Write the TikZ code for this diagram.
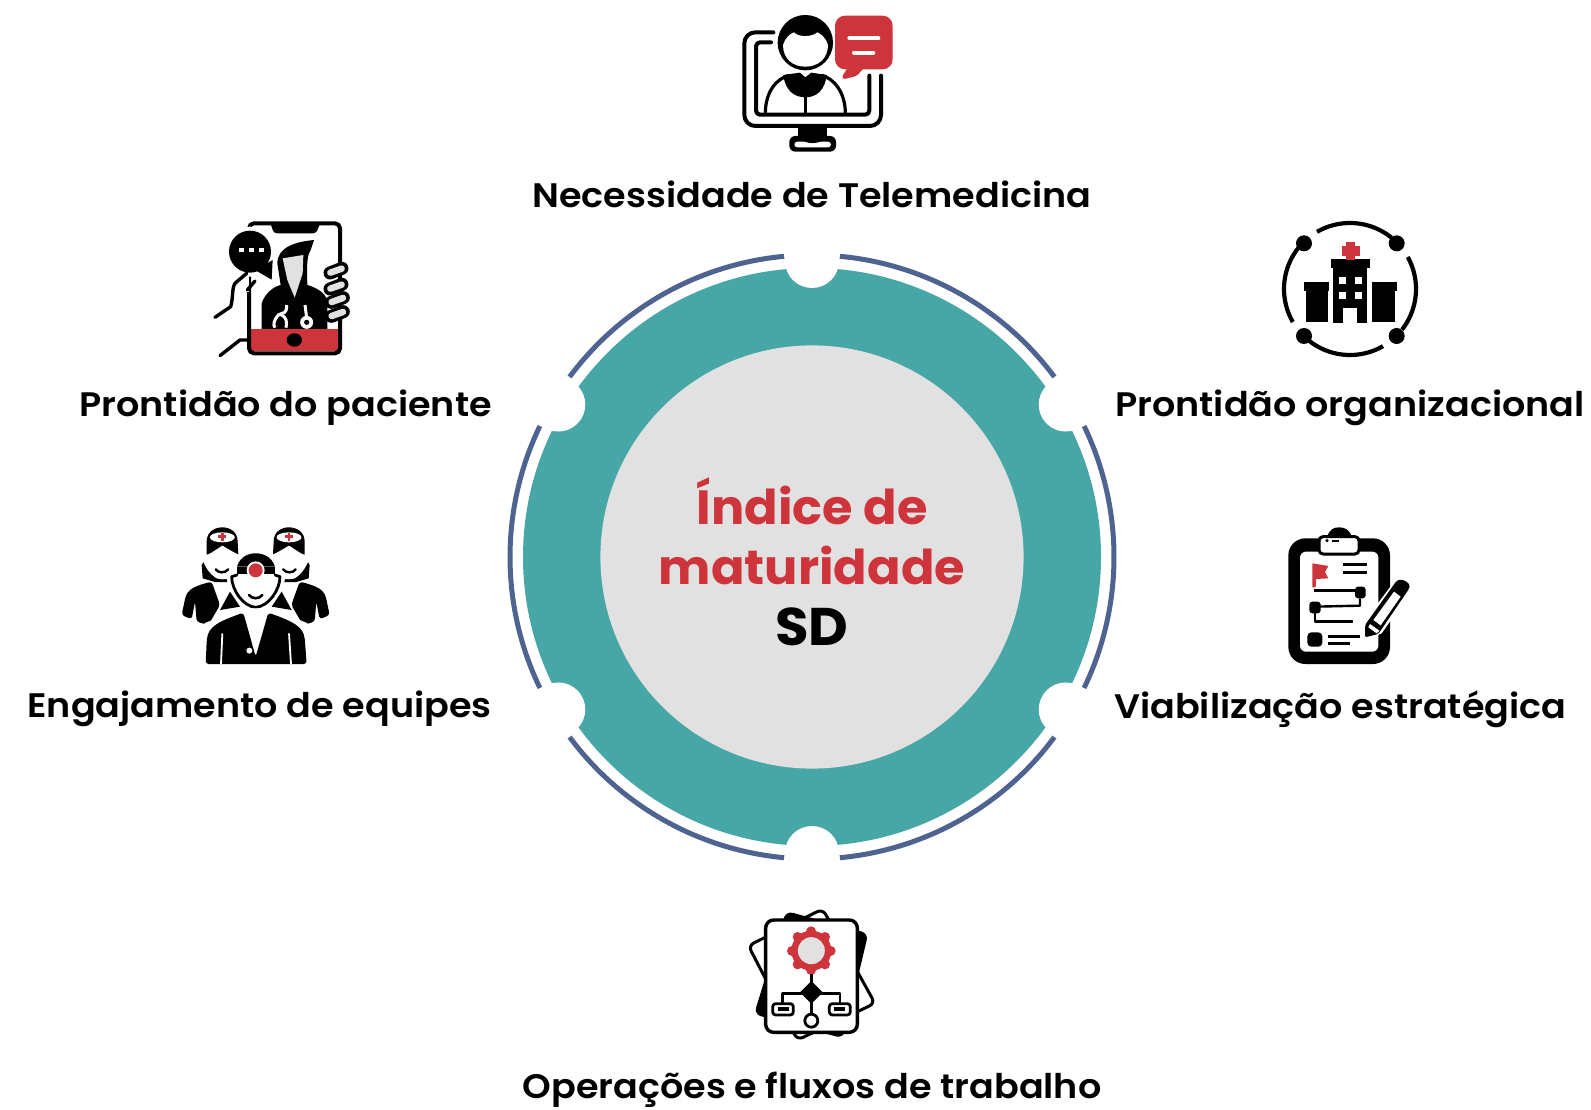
\documentclass[tikz,border=0pt]{standalone}
\usepackage{fontspec}
\setmainfont{Poppins}
\newfontfamily\labfont{Poppins SemiBold}[FakeStretch=1.075]
\newfontfamily\ctrfont{Poppins}[UprightFont=* Bold,FakeStretch=1.03]
\definecolor{teal1}{HTML}{47A6A6}
\definecolor{grey1}{HTML}{E1E1E1}
\definecolor{red1}{HTML}{CE343B}
\definecolor{blue1}{HTML}{4E6390}
\newcommand\arcp[5]{plot[domain=#4:#5,samples=50,smooth] ({#1+#3*cos(\x)},{#2+#3*sin(\x)})}
\newcommand\nurseshape{%
 \fill[black,rounded corners=3pt] (50,315) -- (62,258) .. controls (75,235) and (100,225) .. (140,215) -- (165,285) -- (130,345) -- (95,335) -- (90,275) -- (80,328) -- cycle;
 \fill[black] (125,140) -- (110,165) -- (113,205) -- (150,216) -- (205,216) -- (190,130) -- cycle;
 \fill[black] (125,134) -- (125,95) .. controls (125,65) and (150,52) .. (172,52) .. controls (195,52) and (218,65) .. (218,95) -- (220,134) -- cycle;
 \fill[white] (172,82) ellipse (12.5pt and 5pt);
 \draw[red1,line width=2.8pt] (160,80) -- (184,80);
 \draw[red1,line width=2.8pt] (172,68) -- (172,92);
 \fill[white] (108,140) .. controls (135,135) and (150,120) .. (172,107) .. controls (195,120) and (210,130) .. (224,135) -- (224,195) .. controls (205,205) and (175,212) .. (155,205) .. controls (130,190) and (118,165) .. (108,140) -- cycle;
 \draw[st,line width=2.4pt] (152,178) .. controls (160,190) and (180,190) .. (190,178);
}
\tikzset{
 labeltext/.style={font=\labfont\fontsize{34}{36}\selectfont,text=black,inner sep=0pt,anchor=center},
 ctrtext/.style={font=\ctrfont\fontsize{48}{50}\selectfont,inner sep=0pt,anchor=center},
 ic/.style={x=0.33333pt,y=-0.33333pt},
 st/.style={draw=black,line width=#1,line join=round,line cap=round,fill=none},
 st/.default=4pt
}
\begin{document}
\begin{tikzpicture}[x=1pt,y=-1pt]
\useasboundingbox (0,0) rectangle (1591,1110);
\fill[white] (0,0) rectangle (1591,1110);
% ring
\fill[teal1] (812,557) circle (289pt);
\fill[grey1] (812,557) circle (211.6pt);
\foreach \a/\b in {275.3/323.4,334.3/385.7,396.6/444.7,455.3/503.4,514.3/565.7,576.6/624.7}{
  \draw[blue1,line width=5pt] \arcp{812}{557}{302}{\a}{\b};
}
\foreach \a in {270,329,31,90,149,211}{
  \fill[white] ({812+296*cos(\a)},{557+296*sin(\a)}) circle (27pt);
}
\node[ctrtext,text=red1] (c1) at (812,501) {Índice de};
\node[ctrtext,text=red1] (c2) at (812,565) {maturidade};
\node[ctrtext,text=black,font=\ctrfont\fontsize{53}{55}\selectfont] (c3) at (812,627) {SD};
% labels
\node[labeltext] (l1) at (812,194) {Necessidade de Telemedicina};
\node[labeltext,anchor=east] (l2) at (492,408) {Prontidão do paciente};
\node[labeltext,anchor=west] (l3) at (1115,408) {Prontidão organizacional};
\node[labeltext,anchor=east] (l4) at (492,709) {Engajamento de equipes};
\node[labeltext,anchor=west] (l5) at (1114,709) {Viabilização estratégica};
\node[labeltext] (l6) at (812,1090) {Operações e fluxos de trabalho};
% icon 1 telemedicine
\begin{scope}[ic,shift={(700pt,0pt)}]
 \draw[st,rounded corners=11pt] (220,97) -- (133,97) -- (133,378) -- (543,378) -- (543,227);
 \draw[st,rounded corners=4pt] (213,127) -- (168,127) -- (168,344) -- (508,344) -- (508,227);
 \fill[black,rounded corners=6pt] (268,408) rectangle (408,455);
 \fill[black] (295,378) -- (380,378) -- (380,412) -- (295,412) -- cycle;
 \fill[white,rounded corners=3pt] (283,425) rectangle (393,442);
 \fill[black] (300,412) -- (375,412) .. controls (365,435) and (310,435) .. (300,412) -- cycle;
 \draw[st,line width=3.2pt] (196,340) .. controls (196,275) and (230,235) .. (268,226);
 \draw[st,line width=3.2pt] (436,340) .. controls (436,275) and (400,235) .. (365,226);
 \fill[black] (250,225) -- (300,218) -- (316,232) -- (334,218) -- (380,225) .. controls (375,270) and (350,292) .. (316,292) .. controls (282,292) and (255,270) .. (250,225) -- cycle;
 \draw[st,line width=3.2pt] (316,285) -- (316,340);
 \fill[black] (316,128) circle (27.7pt);
 \fill[white] (249,135) .. controls (255,115) and (270,100) .. (282,97) .. controls (295,112) and (335,112) .. (352,97) .. controls (365,102) and (380,118) .. (384,135) .. controls (384,175) and (355,200) .. (316,200) .. controls (277,200) and (249,175) .. (249,135) -- cycle;
 \fill[red1,rounded corners=10pt] (405,47) rectangle (578,208);
 \fill[red1,rounded corners=2pt] (445,200) -- (495,200) -- (470,228) -- (430,238) -- (425,232) -- cycle;
 \draw[white,line width=4pt,line cap=round] (448,115) -- (535,115);
 \draw[white,line width=4pt,line cap=round] (462,158) -- (520,158);
\end{scope}
% icon 2 patient
\begin{scope}[ic,shift={(190pt,-205pt)}]
 \fill[red1] (180,372) rectangle (445,438);
 \draw[st,rounded corners=5pt] (177,55) rectangle (450,445);
 \fill[black,rounded corners=3pt] (240,52) -- (392,52) -- (378,85) -- (252,85) -- cycle;
 \fill[black] (313,405) ellipse (7.7pt and 6.7pt);
 \fill[white] (160,200) rectangle (178,260);
 \fill[black] (215,372) -- (215,295) .. controls (225,265) and (250,245) .. (272,240) -- (262,175) .. controls (262,125) and (320,110) .. (372,105) -- (362,135) .. controls (352,150) and (350,170) .. (352,240) .. controls (385,250) and (405,265) .. (412,285) -- (412,372) -- cycle;
 \fill[grey1] (278,160) -- (340,150) -- (338,205) -- (314,278) -- (292,225) -- cycle;
 \draw[white,line width=3pt] (290,300) .. controls (290,330) and (280,320) .. (265,330) .. controls (252,345) and (248,360) .. (255,368);
 \draw[white,line width=3pt] (270,328) .. controls (290,335) and (292,350) .. (288,368);
 \draw[white,line width=3pt] (345,300) -- (350,338);
 \fill[white] (350,352) circle (6.5pt); \fill[black] (350,352) circle (2.6pt);
 % hand
 \foreach \y/\x in {197/438,245/438,285/442,327/442}{
   \draw[black,line width=13pt,line cap=round] (\x-18,\y+7) -- (\x+18,\y-7);
 }
 \foreach \y/\x in {197/438,245/438,285/442,327/442}{
   \draw[grey1,line width=6.5pt,line cap=round] (\x-17,\y+6) -- (\x+17,\y-6);
 }
 % bubble
 \fill[white] (180,140) circle (25pt);
 \fill[black] (180,140) circle (21pt);
 \fill[black] (215,185) -- (248,165) -- (245,224) -- (195,195) -- cycle;
 \foreach \x in {155,185,215}{\fill[white] (\x-7,128) rectangle (\x+7,141);}
 \draw[st,line width=3.4pt] (75,337) -- (122,305) .. controls (130,280) and (125,250) .. (135,235) -- (170,205);
 \draw[st,line width=3.4pt] (172,255) -- (195,228);
 \draw[st,line width=3.4pt] (90,452) -- (150,405) -- (175,405);
\end{scope}
% icon 3 hospital
\begin{scope}[ic,shift={(1245pt,-205pt)}]
 \draw[st,line width=4.2pt,line cap=butt] \arcp{315}{252}{198}{240}{309};
 \draw[st,line width=4.2pt,line cap=butt] \arcp{315}{252}{198}{-29}{38};
 \draw[st,line width=4.2pt,line cap=butt] \arcp{315}{252}{198}{60}{128};
 \draw[st,line width=4.2pt,line cap=butt] \arcp{315}{252}{198}{150}{219};
 \foreach \x/\y in {177/115,455/115,177/393,455/393}{\fill[black] (\x,\y) circle (8pt);}
 \fill[black] (257,162) rectangle (375,190);
 \fill[black] (265,190) rectangle (367,355);
 \fill[white] (295,310) rectangle (337,355);
 \foreach \x/\y in {283/217,330/217,283/262,330/262}{\fill[white] (\x,\y) rectangle ++(20,20);}
 \fill[black] (177,230) rectangle (252,257); \fill[black] (183,257) rectangle (250,350);
 \fill[black] (382,230) rectangle (456,257); \fill[black] (382,257) rectangle (450,350);
 \draw[red1,line width=9.5pt,line join=round] (290,138) -- (345,138);
 \draw[red1,line width=9.5pt] (317,112) -- (317,166);
\end{scope}
% icon 4 team
\begin{scope}[ic,shift={(165pt,-510pt)}]
 \nurseshape
 \begin{scope}[xshift=181.333pt,xscale=-1]
  \nurseshape
 \end{scope}
 % centre person
 \fill[white] (185,205) .. controls (195,120) and (350,120) .. (360,205) .. controls (350,270) and (310,305) .. (272,305) .. controls (235,305) and (195,270) .. (185,205) -- cycle;
 \fill[black] (216,170) .. controls (225,140) and (250,130) .. (272,130) .. controls (295,130) and (320,140) .. (330,170) -- cycle;
 \fill[black] (216,170) rectangle (250,192); \fill[black] (296,170) rectangle (330,192);
 \fill[white] (272,181) circle (9pt);
 \fill[red1] (272,181) circle (7pt);
 \draw[st,line width=2.8pt] (216,195) -- (200,200) .. controls (200,240) and (235,290) .. (272,292) .. controls (310,290) and (345,240) .. (345,200) -- (330,195);
 \draw[st,line width=2.6pt] (252,255) .. controls (262,268) and (282,268) .. (292,255);
 \fill[black] (165,300) -- (195,245) -- (225,290) -- cycle;
 \fill[black] (380,300) -- (350,245) -- (320,290) -- cycle;
 \fill[white] (112,470) -- (118,340) -- (225,295) -- (320,295) -- (428,340) -- (432,470) -- cycle;
 \fill[black,rounded corners=3pt] (122,462) -- (125,395) .. controls (130,350) and (160,335) .. (235,308) -- (272,440) -- (310,308) .. controls (385,335) and (415,350) .. (420,395) -- (425,462) -- cycle;
 \fill[white] (240,305) -- (272,395) -- (306,305) -- cycle;
 \draw[white,line width=1.8pt] (172,370) -- (168,462);
 \draw[white,line width=1.8pt] (372,370) -- (378,462);
 \fill[white] (253,422) circle (3pt);
\end{scope}
% icon 5 checklist
\begin{scope}[ic,shift={(1250pt,-510pt)}]
 \fill[black,rounded corners=17pt] (115,85) rectangle (420,462);
 \fill[white,rounded corners=6pt] (150,125) rectangle (385,425);
 \fill[black] (232,78) .. controls (240,58) and (250,52) .. (268,52) .. controls (285,52) and (298,60) .. (305,78) -- cycle;
 \draw[st,line width=3pt,fill=white,rounded corners=4pt] (207,80) rectangle (327,132);
 \fill[black] (231,92) circle (1.8pt);
 \draw[st,line width=2pt,line cap=butt] (245,94) -- (268,94);
 \fill[red1] (187,160) -- (235,168) -- (225,186) -- (235,205) -- (198,207) -- (197,232) -- (187,232) -- cycle;
 \draw[st,line width=2.4pt,line cap=butt] (280,163) -- (350,163);
 \draw[st,line width=2.4pt,line cap=butt] (280,187) -- (350,187);
 \draw[st,line width=2.4pt,line cap=butt] (192,242) -- (330,242);
 \fill[black,rounded corners=3pt] (315,230) rectangle (347,265);
 \draw[st,line width=2.4pt,line cap=butt] (330,265) -- (330,287) -- (195,290);
 \fill[black,rounded corners=3pt] (178,275) rectangle (212,310);
 \draw[st,line width=2.4pt,line cap=butt] (195,310) -- (195,335) -- (310,335);
 \fill[black,rounded corners=4pt] (172,367) rectangle (217,410);
 \draw[st,line width=2.4pt,line cap=butt] (235,380) -- (330,380);
 \draw[st,line width=2.4pt,line cap=butt] (235,400) -- (300,400);
 % pencil
 \fill[white] (335,345) -- (440,205) -- (490,235) -- (395,370) -- (335,395) -- cycle;
 \fill[black,rounded corners=2pt] (345,345) -- (440,212) .. controls (460,205) and (480,220) .. (478,235) -- (385,372) -- (345,382) -- cycle;
 \fill[white] (370,330) -- (432,245) -- (452,260) -- (392,346) -- cycle;
 \fill[white] (360,342) -- (388,362) -- (380,370) -- (355,352) -- cycle;
\end{scope}
% icon 6 operations
\begin{scope}[ic,shift={(720pt,-885pt)}]
 \draw[st,line width=3pt,fill=white,rounded corners=6pt] (85,182) -- (308,72) -- (465,355) -- (232,465) -- cycle;
 \fill[black,rounded corners=7pt] (198,78) -- (445,145) -- (370,460) -- (102,388) -- cycle;
 \draw[st,line width=3.4pt,fill=white,rounded corners=8pt] (137,105) rectangle (412,442);
 \foreach \a in {0,45,...,315}{
  \draw[red1,line width=10pt,line cap=round] ({274+50*cos(\a)},{197+50*sin(\a)}) -- ({274+58*cos(\a)},{197+58*sin(\a)});
 }
 \fill[red1] (274,197) circle (20pt);
 \fill[grey1] (274,197) circle (13.5pt);
 \draw[st,line width=2.8pt,line cap=butt] (274,268) -- (274,300);
 \draw[st,line width=2.8pt,line cap=butt] (187,355) -- (187,325) -- (360,325) -- (360,355);
 \draw[st,line width=2.8pt,line cap=butt] (274,340) -- (274,390);
 \fill[black] (274,288) -- (308,322) -- (274,356) -- (240,322) -- cycle;
 \draw[st,line width=2.8pt,fill=white,rounded corners=3pt] (158,356) rectangle (220,390);
 \draw[st,line width=2.8pt,fill=white,rounded corners=3pt] (328,356) rectangle (391,390);
 \fill[black] (174,367) rectangle (206,377);
 \fill[black] (343,367) rectangle (376,377);
 \draw[st,line width=2.8pt,fill=white] (274,407) circle (6.5pt);
\end{scope}
\end{tikzpicture}
\end{document}
